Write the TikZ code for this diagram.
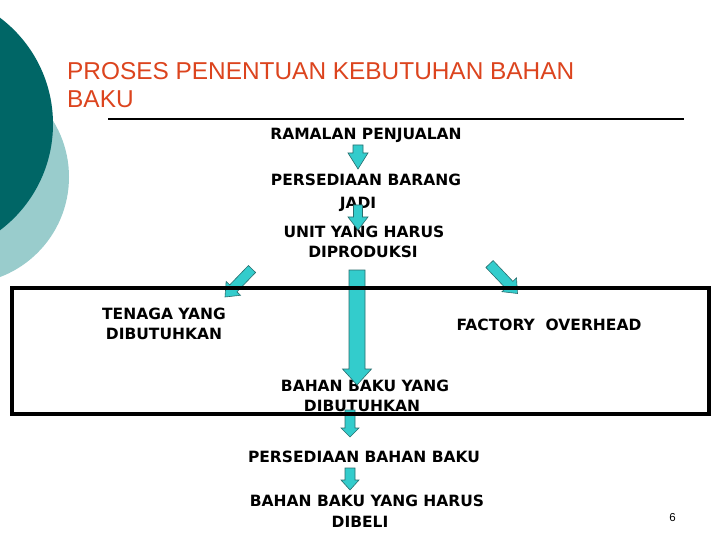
\documentclass[tikz,border=0pt]{standalone}
\usepackage{fontspec}
\setmainfont{DejaVu Sans}
\newfontfamily\titlefont{Liberation Sans}
\usetikzlibrary{calc}
\definecolor{darkteal}{RGB}{0,102,102}
\definecolor{lightteal}{RGB}{153,204,204}
\definecolor{titlered}{RGB}{220,68,30}
\definecolor{arrowfill}{RGB}{51,204,204}
\definecolor{arrowline}{RGB}{40,110,110}
\tikzset{
  lbl/.style={anchor=base, inner sep=0pt, font=\fontsize{15.5}{18}\selectfont\bfseries},
  ttl/.style={anchor=base west, inner sep=0pt, text=titlered, font=\titlefont\fontsize{24.4}{28}\selectfont},
  blk/.style={fill=arrowfill, draw=arrowline, line width=0.6pt, line join=miter},
  frame/.style={draw=black, line width=4.5pt}
}
\newcommand{\blkarrow}[5]{%
  \path ($(#2)!#5pt!(#1)$) coordinate (hb);
  \filldraw[blk] ($(#1)!#3pt!90:(#2)$) -- ($(hb)!#3pt!90:(#2)$) -- ($(hb)!#4pt!90:(#2)$)
    -- (#2) -- ($(hb)!#4pt!-90:(#2)$) -- ($(hb)!#3pt!-90:(#2)$) -- ($(#1)!#3pt!-90:(#2)$) -- cycle;}
\begin{document}
\begin{tikzpicture}[x=1pt,y=-1pt]
\useasboundingbox (0,0) rectangle (720,540);
\fill[white] (0,0) rectangle (720,540);
% decorative circles
\begin{scope}
\clip (0,0) rectangle (720,540);
\fill[lightteal] (-38,177) circle (107);
\fill[darkteal] (-80,124) circle (133);
\end{scope}
% title
\node[ttl] (t1) at (67,80) {PROSES PENENTUAN KEBUTUHAN BAHAN};
\node[ttl] (t2) at (67,108) {BAKU};
\draw[line width=2pt] (108,119.5) coordinate (ls) -- (684,119.5) coordinate (le);
% texts
\node[lbl] (ramalan) at (366,140) {RAMALAN PENJUALAN};
\node[lbl] (pbj1) at (366,186) {PERSEDIAAN BARANG};
\node[lbl] (pbj2) at (358,209) {JADI};
\node[lbl] (unit1) at (364,237) {UNIT YANG HARUS};
\node[lbl] (unit2) at (363,257) {DIPRODUKSI};
\node[lbl] (ten1) at (164,319) {TENAGA YANG};
\node[lbl] (ten2) at (164,339) {DIBUTUHKAN};
\node[lbl] (fo) at (549,330) {FACTORY\ \ OVERHEAD};
\node[lbl] (bb1) at (365,391) {BAHAN BAKU YANG};
\node[lbl] (bb2) at (362,411) {DIBUTUHKAN};
\node[lbl] (pbb) at (364,462) {PERSEDIAAN BAHAN BAKU};
\node[lbl] (beli1) at (367,506) {BAHAN BAKU YANG HARUS};
\node[lbl] (beli2) at (360,527) {DIBELI};
\node[anchor=base, inner sep=0pt, font=\titlefont\fontsize{11.5}{13}\selectfont] (pg) at (672.5,521) {6};
% arrows
\coordinate (a1s) at (358,145); \coordinate (a1e) at (358,169);
\coordinate (a2s) at (358,205); \coordinate (a2e) at (358,230);
\coordinate (a3s) at (357,270); \coordinate (a3e) at (357,385);
\coordinate (a4s) at (350,410); \coordinate (a4e) at (350,437);
\coordinate (a5s) at (350,468); \coordinate (a5e) at (350,490);
\coordinate (als) at (252,269); \coordinate (ale) at (225,297);
\coordinate (ars) at (489.5,264); \coordinate (are) at (517.5,293.5);
\blkarrow{a1s}{a1e}{5}{10}{16}
\blkarrow{a2s}{a2e}{4.5}{10}{13}
\blkarrow{a3s}{a3e}{8}{14.5}{16}
\blkarrow{a4s}{a4e}{5}{9}{9}
\blkarrow{a5s}{a5e}{5}{9}{10}
\blkarrow{als}{ale}{5}{10}{12}
\blkarrow{ars}{are}{5}{10}{12}
% frame
\draw[frame] (12,288) rectangle (709,414);
\end{tikzpicture}
\end{document}
